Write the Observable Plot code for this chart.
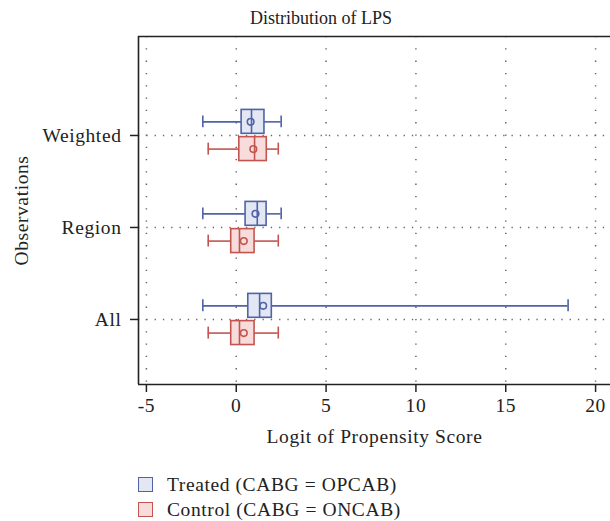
<!DOCTYPE html>
<html>
<head>
<meta charset="utf-8">
<script src="https://cdn.jsdelivr.net/npm/d3@7"></script>
<script src="https://cdn.jsdelivr.net/npm/@observablehq/plot@0.6"></script>
<style>
  html, body { margin: 0; padding: 0; background: #fff; }
  body { width: 610px; height: 521px; overflow: hidden; font-family: "Liberation Serif", "DejaVu Serif", serif; color: #222; }
  #title { position: absolute; left: 32px; top: 8px; width: 578px; text-align: center; font-size: 18px; line-height: 20px; }
  #chart { position: absolute; left: 0; top: 30px; }
  #legend { position: absolute; left: 138px; top: 472px; font-size: 19.5px; letter-spacing: 0.6px; }
  .item { display: flex; align-items: center; height: 25px; }
  .sw { width: 15px; height: 15px; box-sizing: border-box; border: 1.5px solid; margin-right: 14px; }
</style>
</head>
<body>
<div id="title">Distribution of LPS</div>
<div id="chart"></div>
<div id="legend"></div>
<script>
// ---- data ----
const categories = ["All", "Region", "Weighted"];
const groups = ["Treated (CABG = OPCAB)", "Control (CABG = ONCAB)"];

const treatedMin    = [-1.86, -1.86, -1.86];
const treatedQ1     = [0.67, 0.52, 0.30];
const treatedMedian = [1.30, 1.17, 0.85];
const treatedMean   = [1.50, 1.07, 0.80];
const treatedQ3     = [1.98, 1.69, 1.57];
const treatedMax    = [18.47, 2.50, 2.50];

const controlMin    = [-1.56, -1.56, -1.56];
const controlQ1     = [-0.28, -0.28, 0.17];
const controlMedian = [0.18, 0.18, 1.02];
const controlMean   = [0.42, 0.42, 0.95];
const controlQ3     = [1.02, 1.02, 1.70];
const controlMax    = [2.34, 2.34, 2.34];

const xTicks = [-5, 0, 5, 10, 15, 20];

// ---- styling ----
const strokes = ["#4f63a6", "#c2554f"];
const fills = ["#e3e6f3", "#f8dcdb"];
const offsets = [0.148, -0.148];
const halfBox = 0.13;
const halfCap = 0.065;
const xDomain = [-5.44, 20.83];
const yDomain = [0.293, 4.076];

// ---- build table ----
const rows = [];
categories.forEach((c, i) => {
  const pos = i + 1;
  rows.push({cat: c, g: 0, pos: pos + offsets[0], min: treatedMin[i], q1: treatedQ1[i], med: treatedMedian[i], mean: treatedMean[i], q3: treatedQ3[i], max: treatedMax[i]});
  rows.push({cat: c, g: 1, pos: pos + offsets[1], min: controlMin[i], q1: controlQ1[i], med: controlMedian[i], mean: controlMean[i], q3: controlQ3[i], max: controlMax[i]});
});

const sc = d => strokes[d.g];
const fc = d => fills[d.g];

const plot = Plot.plot({
  width: 610,
  height: 430,
  marginLeft: 138,
  marginRight: 0,
  marginTop: 6,
  marginBottom: 76,
  style: {fontFamily: "Liberation Serif, DejaVu Serif, serif", fontSize: "19.5px", letterSpacing: "0.6px", color: "#222", background: "#fff"},
  x: {domain: xDomain, ticks: xTicks, label: null},
  y: {domain: yDomain, ticks: [1, 2, 3], label: null},
  marks: [
    // dotted grid
    Plot.ruleX(xTicks, {stroke: "#666", strokeWidth: 1.5, strokeDasharray: "1.3,11", strokeOpacity: 1}),
    Plot.ruleY([1, 2, 3], {stroke: "#666", strokeWidth: 1.5, strokeDasharray: "1.3,7", strokeOpacity: 1}),
    // frame (left, top, bottom)
    Plot.ruleX([xDomain[0]], {stroke: "#222", strokeWidth: 1.6}),
    Plot.ruleY(yDomain, {stroke: "#222", strokeWidth: 1.6}),
    // whiskers
    Plot.ruleY(rows, {y: "pos", x1: "min", x2: "q1", stroke: sc, strokeWidth: 1.6}),
    Plot.ruleY(rows, {y: "pos", x1: "q3", x2: "max", stroke: sc, strokeWidth: 1.6}),
    Plot.ruleX(rows, {x: "min", y1: d => d.pos - halfCap, y2: d => d.pos + halfCap, stroke: sc, strokeWidth: 1.6}),
    Plot.ruleX(rows, {x: "max", y1: d => d.pos - halfCap, y2: d => d.pos + halfCap, stroke: sc, strokeWidth: 1.6}),
    // boxes
    Plot.rect(rows, {x1: "q1", x2: "q3", y1: d => d.pos - halfBox, y2: d => d.pos + halfBox, fill: fc, stroke: sc, strokeWidth: 1.6}),
    Plot.ruleX(rows, {x: "med", y1: d => d.pos - halfBox, y2: d => d.pos + halfBox, stroke: sc, strokeWidth: 1.6}),
    Plot.dot(rows, {x: "mean", y: "pos", r: 3.3, stroke: sc, strokeWidth: 1.6, fill: "none"}),
    // axes
    Plot.axisX({ticks: xTicks, tickSize: 8, tickPadding: 6, tickFormat: d => String(d).replace("−", "-"), label: "Logit of Propensity Score", labelAnchor: "center", labelArrow: "none", labelOffset: 58, stroke: "#222", strokeWidth: 1.5, fill: "#222"}),
    Plot.axisY({ticks: [1, 2, 3], tickSize: 8, tickPadding: 9, tickFormat: d => categories[d - 1], label: "Observations", labelAnchor: "center", labelArrow: "none", labelOffset: 124, stroke: "#222", strokeWidth: 1.5, fill: "#222"})
  ]
});
document.getElementById("chart").appendChild(plot);

// legend
const legend = document.getElementById("legend");
groups.forEach((g, i) => {
  const item = document.createElement("div");
  item.className = "item";
  const sw = document.createElement("span");
  sw.className = "sw";
  sw.style.background = fills[i];
  sw.style.borderColor = strokes[i];
  const t = document.createElement("span");
  t.textContent = g;
  item.appendChild(sw);
  item.appendChild(t);
  legend.appendChild(item);
});
</script>
</body>
</html>
